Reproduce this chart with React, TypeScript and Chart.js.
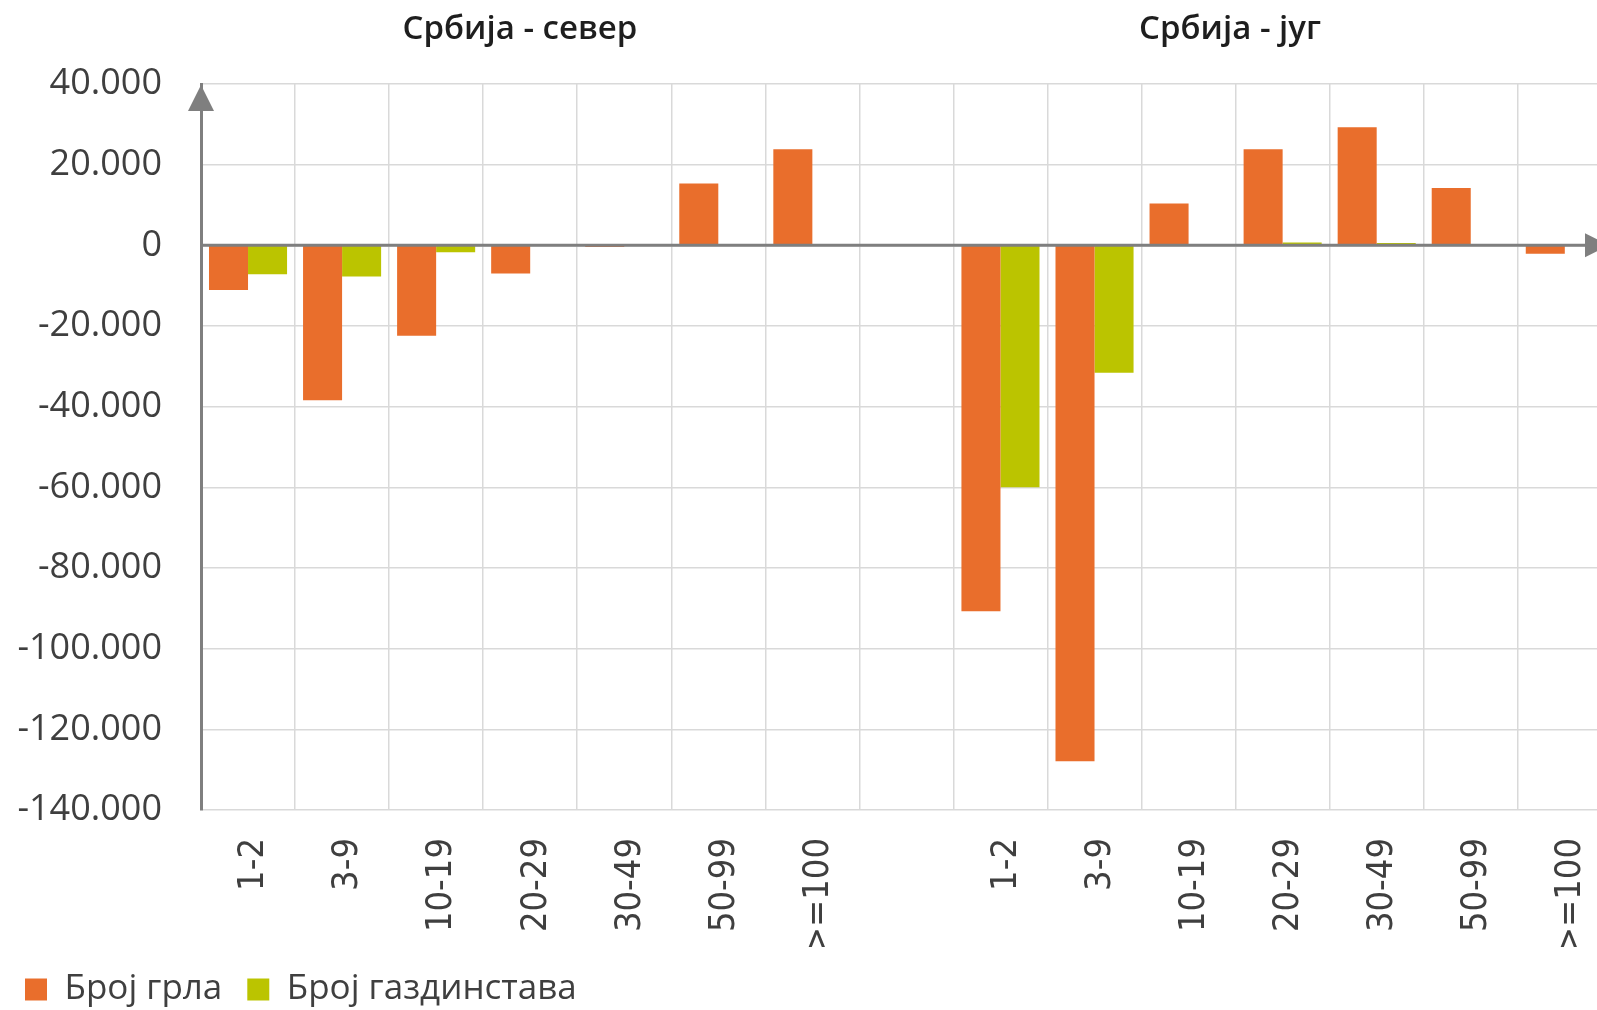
import React, { useEffect, useRef } from 'react';
import { Chart, registerables } from 'chart.js';

Chart.register(...registerables);

// ---- data ----
const sizeClasses = ['1-2', '3-9', '10-19', '20-29', '30-49', '50-99', '>=100'];
const regionTitles = ['Србија - север', 'Србија - југ'];
const seriesNames = ['Број грла', 'Број газдинстава'];

const grlaNorth = [-11100, -38400, -22400, -7000, -400, 15300, 23800];
const grlaSouth = [-90700, -127900, 10400, 23800, 29300, 14200, -2100];
const gazdNorth = [-7200, -7700, -1700, 0, 0, 0, 0];
const gazdSouth = [-60000, -31600, 200, 700, 600, 0, 0];

const yMin = -140000;
const yMax = 40000;
const yStep = 20000;

// ---- style ----
const ORANGE = '#E96E2C';
const GREEN = '#BBC400';
const AXIS = '#7F7F7F';
const GRID = '#D9D9D9';
const TEXT = '#3F3F3F';

const labels = [...sizeClasses, '', ...sizeClasses];
const grla = [...grlaNorth, null, ...grlaSouth];
const gazd = [...gazdNorth, null, ...gazdSouth];

function fmt(v: number): string {
  const s = String(Math.abs(v)).replace(/\B(?=(\d{3})+(?!\d))/g, '.');
  return (v < 0 ? '-' : '') + s;
}

const decorPlugin = {
  id: 'decor',
  afterDatasetsDraw(chart: any) {
    const { ctx, chartArea, scales } = chart;
    const y0 = scales.y.getPixelForValue(0);
    const x0 = chartArea.left;
    ctx.save();
    // zero line with arrow
    ctx.strokeStyle = AXIS;
    ctx.fillStyle = AXIS;
    ctx.lineWidth = 3;
    ctx.beginPath();
    ctx.moveTo(x0, y0);
    ctx.lineTo(1590, y0);
    ctx.stroke();
    ctx.beginPath();
    ctx.moveTo(1585, y0 - 12);
    ctx.lineTo(1609, y0);
    ctx.lineTo(1585, y0 + 12);
    ctx.closePath();
    ctx.fill();
    // y axis arrow head
    ctx.beginPath();
    ctx.moveTo(x0 - 13, chartArea.top + 27);
    ctx.lineTo(x0, chartArea.top + 1);
    ctx.lineTo(x0 + 13, chartArea.top + 27);
    ctx.closePath();
    ctx.fill();
    // region titles
    ctx.fillStyle = '#1E1E1E';
    ctx.font = '600 33px "Open Sans", "Noto Sans", sans-serif';
    ctx.textAlign = 'center';
    ctx.textBaseline = 'middle';
    ctx.fillText(regionTitles[0], 520, 30);
    ctx.fillText(regionTitles[1], 1230, 30);
    ctx.restore();
  },
};

export default function App() {
  const ref = useRef<HTMLCanvasElement | null>(null);

  useEffect(() => {
    if (!ref.current) return;
    const chart = new Chart(ref.current, {
      type: 'bar',
      data: {
        labels,
        datasets: [
          {
            label: seriesNames[0],
            data: grla as any,
            backgroundColor: ORANGE,
            borderWidth: 0,
          },
          {
            label: seriesNames[1],
            data: gazd as any,
            backgroundColor: GREEN,
            borderWidth: 0,
          },
        ],
      },
      options: {
        animation: false,
        responsive: false,
        devicePixelRatio: 1,
        layout: { padding: { top: 84, left: 0, right: 0, bottom: 0 } },
        datasets: {
          bar: { categoryPercentage: 0.83, barPercentage: 1.0 },
        },
        plugins: {
          title: { display: false },
          tooltip: { enabled: false },
          legend: {
            display: true,
            position: 'bottom',
            align: 'start',
            labels: {
              boxWidth: 22,
              boxHeight: 22,
              padding: 25,
              color: TEXT,
              font: { family: '"Open Sans", "Noto Sans", sans-serif', size: 35 },
            },
          },
        },
        scales: {
          x: {
            offset: true,
            grid: { display: true, color: GRID, lineWidth: 1.5, offset: true, drawTicks: false },
            border: { display: false },
            ticks: {
              autoSkip: false,
              maxRotation: 90,
              minRotation: 90,
              padding: 28,
              labelOffset: 6,
              color: TEXT,
              font: { family: '"DejaVu Sans Condensed", "Liberation Sans", sans-serif', size: 36 },
            },
            afterFit: (scale: any) => {
              scale.height = 137;
            },
          },
          y: {
            min: yMin,
            max: yMax,
            grid: { color: GRID, lineWidth: 1.5, drawTicks: false },
            border: { display: true, color: AXIS, width: 3 },
            ticks: {
              stepSize: yStep,
              padding: 39,
              color: TEXT,
              font: { family: '"Open Sans", "Noto Sans", sans-serif', size: 36 },
              callback: (v: any) => fmt(Number(v)),
            },
            afterFit: (scale: any) => {
              scale.width = 201;
            },
          },
        },
      },
      plugins: [decorPlugin],
    });
    return () => chart.destroy();
  }, []);

  return (
    <div
      style={{
        position: 'absolute',
        left: 0,
        top: 0,
        width: 1597,
        height: 1010,
        overflow: 'hidden',
        background: '#fff',
      }}
    >
      <canvas ref={ref} width={1636} height={1017} style={{ display: 'block' }} />
    </div>
  );
}
